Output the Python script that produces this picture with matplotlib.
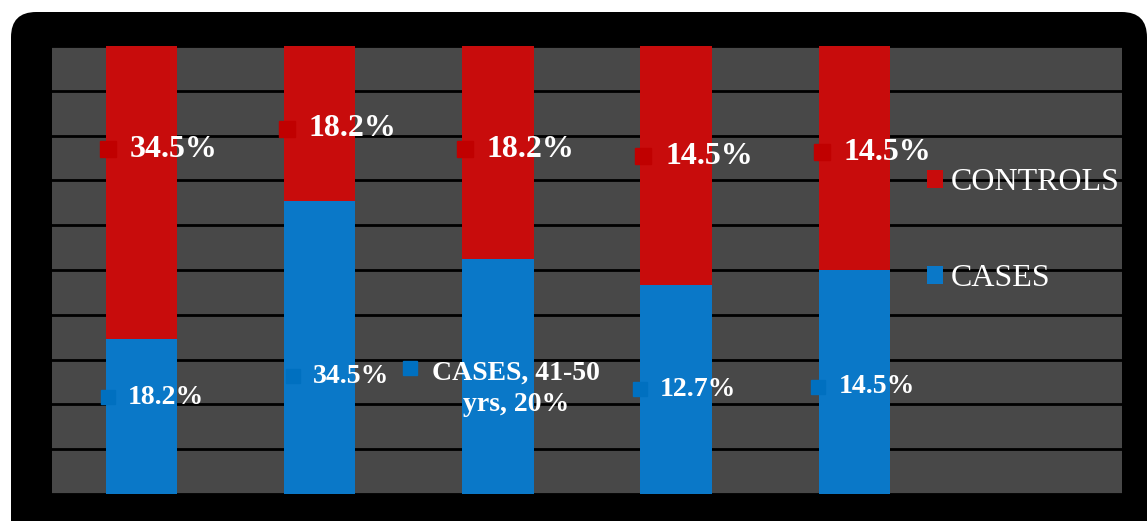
import matplotlib.pyplot as plt
import numpy as np
from matplotlib.patches import FancyBboxPatch

# data (percent of each age group)
cases = [18.2, 34.5, 20.0, 12.7, 14.5]
controls = [34.5, 18.2, 18.2, 14.5, 14.5]
case_labels = ["18.2%", "34.5%", "CASES, 41-50\nyrs, 20%", "12.7%", "14.5%"]
control_labels = ["34.5%", "18.2%", "18.2%", "14.5%", "14.5%"]

# label placement (hand placed in the original)
ctrl_label_y = [77.0, 81.5, 77.0, 75.4, 76.3]
case_label_y = [21.6, 26.3, 23.5, 23.4, 23.9]
case_mark_dx = [-0.185, -0.151, -0.493, -0.202, -0.207]
case_text_dx = [-0.073, -0.039, 0.1, -0.090, -0.090]

red = "#C80C0C"
blue = "#0A78C8"
red_mark = "#C00000"
blue_mark = "#0070C0"
plot_bg = "#484848"

plt.rcParams["font.family"] = ["Liberation Serif", "DejaVu Serif"]

cases = np.array(cases)
controls = np.array(controls)
total = cases + controls
case_pct = cases / total * 100
ctrl_pct = controls / total * 100
x = np.arange(len(cases))

fig = plt.figure(figsize=(11.47, 5.21), dpi=100)
fig.patch.set_facecolor("white")

# black rounded frame behind the chart
frame = FancyBboxPatch((11 / 1147, -60 / 521), 1136 / 1147, 569 / 521,
                       boxstyle="round,pad=0,rounding_size=0.022",
                       transform=fig.transFigure, facecolor="black",
                       edgecolor="none", mutation_aspect=1147 / 521, zorder=-1)
fig.patches.append(frame)

ax = fig.add_axes([52 / 1147, 27 / 521, 1070 / 1147, 448 / 521])
ax.set_facecolor(plot_bg)

ax.bar(x, case_pct, width=0.4, color=blue, label="CASES", zorder=3)
ax.bar(x, ctrl_pct, width=0.4, bottom=case_pct, color=red, label="CONTROLS", zorder=3)

ax.set_xlim(-0.5, 5.5)
ax.set_ylim(0, 100)
ax.set_yticks(np.arange(0, 101, 10))
ax.grid(axis="y", color="black", linewidth=2, zorder=1)
ax.tick_params(left=False, bottom=False, labelleft=False, labelbottom=False)
for s in ax.spines.values():
    s.set_visible(False)

# data labels with small colour keys
for i in range(len(cases)):
    ax.plot(x[i] - 0.185, ctrl_label_y[i], marker="s", markersize=11.5,
            color=red_mark, zorder=5)
    ax.text(x[i] - 0.062, ctrl_label_y[i], control_labels[i], color="white",
            fontsize=23, fontweight="bold", ha="left", va="center", zorder=6)
    if "\n" in case_labels[i]:
        ax.plot(x[i] + case_mark_dx[i], case_label_y[i] + 4.6, marker="s",
                markersize=10, color=blue_mark, zorder=5)
        ax.text(x[i] + case_text_dx[i], case_label_y[i], case_labels[i],
                color="white", fontsize=20, fontweight="bold", ha="center",
                va="center", linespacing=1.35, zorder=6)
    else:
        ax.plot(x[i] + case_mark_dx[i], case_label_y[i], marker="s",
                markersize=10, color=blue_mark, zorder=5)
        ax.text(x[i] + case_text_dx[i], case_label_y[i], case_labels[i],
                color="white", fontsize=20, fontweight="bold", ha="left",
                va="center", zorder=6)

handles, labels = ax.get_legend_handles_labels()
leg = ax.legend(handles[::-1], labels[::-1], loc="upper left",
                bbox_to_anchor=(0.818, 0.727), frameon=False,
                prop={"size": 23}, labelcolor="white", handlelength=0.5,
                handleheight=0.5, handletextpad=0.25, labelspacing=2.1,
                borderpad=0, borderaxespad=0)

fig.savefig("out.png", dpi=100)
